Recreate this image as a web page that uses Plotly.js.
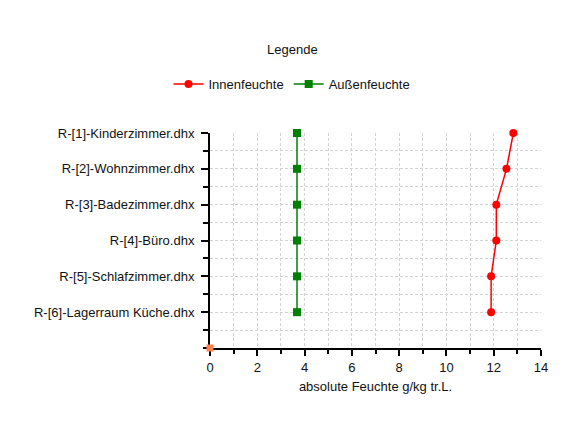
<!DOCTYPE html>
<html>
<head>
<meta charset="utf-8">
<script src="https://cdn.plot.ly/plotly-3.0.1.min.js"></script>
<style>html,body{margin:0;padding:0;background:#fff;}#chart{width:584px;height:424px;}</style>
</head>
<body>
<div id="chart"></div>
<script>
const categories = [
  "R-[1]-Kinderzimmer.dhx",
  "R-[2]-Wohnzimmer.dhx",
  "R-[3]-Badezimmer.dhx",
  "R-[4]-Büro.dhx",
  "R-[5]-Schlafzimmer.dhx",
  "R-[6]-Lagerraum Küche.dhx"
];
const innenfeuchte = [12.83, 12.54, 12.11, 12.11, 11.89, 11.89];
const aussenfeuchte = [3.68, 3.68, 3.68, 3.68, 3.68, 3.68];
const originX = [0];
const originY = [0];
const xTickVals = [0, 2, 4, 6, 8, 10, 12, 14];

const yPos = categories.map((c, i) => categories.length - i);

const traces = [
  {
    name: "Innenfeuchte", x: innenfeuchte, y: yPos, type: "scatter", mode: "lines+markers",
    line: {color: "#ff0000", width: 1.5},
    marker: {color: "#ff0000", symbol: "circle", size: 8}, cliponaxis: false
  },
  {
    name: "Außenfeuchte", x: aussenfeuchte, y: yPos, type: "scatter", mode: "lines+markers",
    line: {color: "#008000", width: 1.5},
    marker: {color: "#008000", symbol: "square", size: 8}, cliponaxis: false
  },
  {
    name: "origin", x: originX, y: originY, type: "scatter", mode: "markers", showlegend: false,
    marker: {color: "#ff7f50", symbol: "square", size: 7}, cliponaxis: false
  }
];

const gridCol = "#d3d3d3";
const dash = "3px,2px";
const layout = {
  width: 584, height: 424,
  margin: {l: 210, r: 43, t: 133, b: 76, pad: 0},
  paper_bgcolor: "#ffffff", plot_bgcolor: "#ffffff",
  font: {family: "Liberation Sans, Arial, sans-serif", size: 13, color: "#111111"},
  showlegend: true,
  legend: {
    orientation: "h", xref: "container", yref: "container",
    x: 0.5, xanchor: "center", y: 1 - 69/424, yanchor: "top",
    font: {size: 13}, itemwidth: 30, bgcolor: "rgba(0,0,0,0)"
  },
  annotations: [{
    text: "Legende", xref: "paper", yref: "paper", showarrow: false,
    x: (292 - 210) / 331, y: 1 + (133 - 49) / 215, xanchor: "center", yanchor: "middle",
    font: {size: 13}
  }],
  xaxis: {
    range: [0, 14], autorange: false, fixedrange: true, layer: "below traces",
    tickvals: xTickVals, ticks: "outside", ticklen: 6, tickwidth: 2, tickcolor: "#000",
    showline: true, linecolor: "#000", linewidth: 2,
    showgrid: true, gridcolor: gridCol, griddash: dash, gridwidth: 1,
    zeroline: false,
    minor: {dtick: 1, tick0: 0, ticks: "outside", ticklen: 4, tickwidth: 2, tickcolor: "#000",
            showgrid: true, gridcolor: gridCol, griddash: dash, gridwidth: 1},
    title: {text: "absolute Feuchte g/kg tr.L.", font: {size: 13}, standoff: 8}
  },
  yaxis: {
    range: [0, 6], autorange: false, fixedrange: true, layer: "below traces",
    tickvals: yPos, ticktext: categories, ticks: "outside", ticklen: 7, tickwidth: 2, tickcolor: "#000",
    ticklabelstandoff: 4,
    showline: true, linecolor: "#000", linewidth: 2,
    showgrid: true, gridcolor: gridCol, griddash: dash, gridwidth: 1,
    zeroline: false,
    minor: {dtick: 0.5, tick0: 0, ticks: "outside", ticklen: 5, tickwidth: 2, tickcolor: "#000",
            showgrid: true, gridcolor: gridCol, griddash: dash, gridwidth: 1}
  }
};

Plotly.newPlot("chart", traces, layout, {displayModeBar: false, staticPlot: true});
</script>
</body>
</html>
